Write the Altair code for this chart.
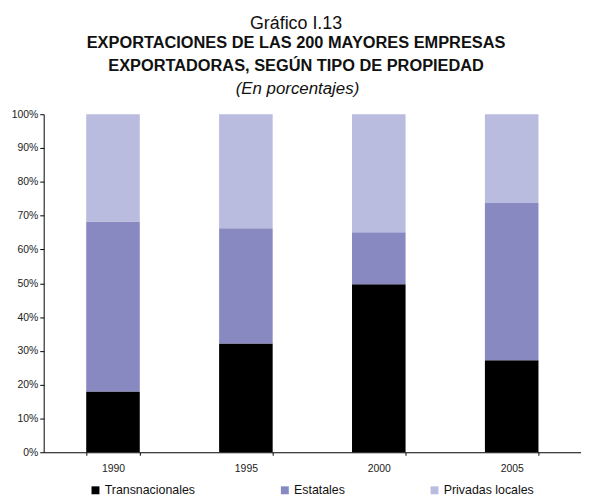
import altair as alt
import pandas as pd

years = ["1990", "1995", "2000", "2005"]
series = ["Transnacionales", "Estatales", "Privadas locales"]
transnacionales = [18.0, 32.2, 49.7, 27.2]
estatales = [50.3, 34.1, 15.4, 46.5]
privadas = [31.7, 33.7, 34.9, 26.3]
colors = ["#000000", "#8989C1", "#B9BCDE"]

title_main = "Gráfico I.13"
title_bold = ["EXPORTACIONES DE LAS 200 MAYORES EMPRESAS",
              "EXPORTADORAS, SEGÚN TIPO DE PROPIEDAD"]
title_note = "(En porcentajes)"

rows = []
for i, y in enumerate(years):
    for k, (s, vals) in enumerate(zip(series, [transnacionales, estatales, privadas])):
        rows.append({"year": y, "serie": s, "value": vals[i], "ord": k})
df = pd.DataFrame(rows)

FONT = "Liberation Sans"

bars = alt.Chart(df).mark_bar().encode(
    x=alt.X("year:N", sort=years,
            scale=alt.Scale(paddingInner=0.597, paddingOuter=0.32),
            axis=alt.Axis(title=None, labelAngle=0, tickBand="extent",
                          domainColor="#000", tickColor="#000", tickSize=3,
                          labelFontSize=10.5, labelPadding=8, labelColor="#222",
                          labelFont=FONT)),
    y=alt.Y("value:Q", stack="normalize",
            scale=alt.Scale(domain=[0, 1], nice=False),
            axis=alt.Axis(title=None, format="%", grid=False,
                          values=[i / 10 for i in range(11)],
                          domainColor="#000", tickColor="#000", tickSize=4,
                          labelFontSize=10.5, labelColor="#222", labelFont=FONT)),
    color=alt.Color("serie:N", sort=series,
                    scale=alt.Scale(domain=series, range=colors),
                    legend=alt.Legend(orient="none", legendX=46, legendY=373,
                                      direction="horizontal", title=None,
                                      symbolType="square", symbolSize=64,
                                      symbolStrokeWidth=0,
                                      labelFontSize=12.5, labelFont=FONT,
                                      labelColor="#111",
                                      columnPadding=84, labelOffset=3)),
    order=alt.Order("ord:Q"),
)

note = alt.Chart(pd.DataFrame({"t": [title_note]})).mark_text(
    fontStyle="italic", fontSize=17, font=FONT, color="#111",
    baseline="alphabetic"
).encode(text="t:N", x=alt.value(256), y=alt.value(-20))

chart = alt.layer(bars, note).properties(
    width=542, height=341,
    padding={"left": 3, "top": 5, "right": 0, "bottom": 0},
    title=alt.TitleParams(
        text=title_main, subtitle=title_bold,
        fontSize=18, fontWeight="normal", font=FONT, color="#111",
        subtitleFont=FONT, subtitleFontSize=16.5, subtitleFontWeight="bold",
        subtitleColor="#111", subtitlePadding=2, subtitleLineHeight=23,
        anchor="middle", frame="bounds", offset=6),
).configure_view(stroke=None)

chart.save("out.html", embed_options={"renderer": "svg", "actions": False})
